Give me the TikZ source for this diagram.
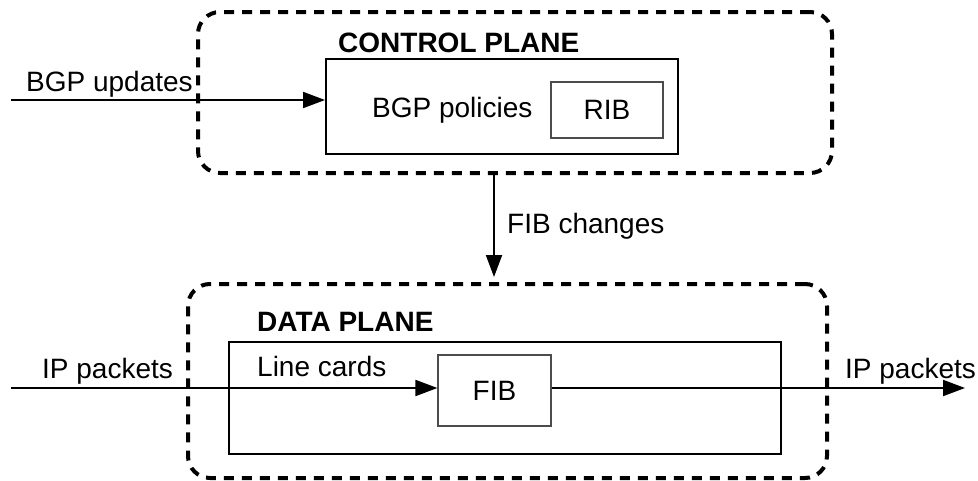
\documentclass[tikz,border=0pt]{standalone}
\usepackage{fontspec}
\setmainfont{Liberation Sans}
\usetikzlibrary{arrows.meta}
\begin{document}
\begin{tikzpicture}[x=1pt,y=-1pt,
  every node/.style={font=\fontsize{28}{34}\selectfont},
  plane/.style={draw, line width=4pt, dash pattern=on 10pt off 8pt, rounded corners=22pt, inner sep=0pt},
  outerbox/.style={draw, line width=2pt, inner sep=0pt},
  innerbox/.style={draw=black!70, line width=1.2pt, inner sep=0pt},
  txt/.style={inner sep=0pt, anchor=base west},
  flow/.style={line width=2pt, -{Triangle[length=22pt,width=16pt]}}
]
\useasboundingbox (0,0) rectangle (978,480);

% control plane
\node[plane, minimum width=634pt, minimum height=161pt] (ctrl) at (515,92.5) {};
\node[outerbox, minimum width=352pt, minimum height=95pt] (ctrlbox) at (502,106.5) {};
\node[innerbox, minimum width=112pt, minimum height=56pt] (rib) at (607,110) {};
\node[inner sep=0pt] (ribtxt) at (rib) {RIB};
\node[txt, font=\fontsize{28}{34}\selectfont\bfseries] (ctrltitle) at (338,52) {CONTROL PLANE};
\node[txt] (policies) at (372,117) {BGP policies};

% data plane
\node[plane, minimum width=639pt, minimum height=194pt] (data) at (507.5,381) {};
\node[outerbox, minimum width=552pt, minimum height=112pt] (databox) at (505,398) {};
\node[innerbox, minimum width=113pt, minimum height=71pt] (fib) at (494.5,390.5) {};
\node[inner sep=0pt] (fibtxt) at (fib) {FIB};
\node[txt, font=\fontsize{28}{34}\selectfont\bfseries] (datatitle) at (257,331) {DATA PLANE};
\node[txt] (linecards) at (257,376) {Line cards};

% connectors
\coordinate (bgpin) at (11,100);
\draw[flow] (bgpin) -- (bgpin -| ctrlbox.west);
\node[txt] (bgplabel) at (26,91) {BGP updates};

\coordinate (fibtip) at (494,277);
\draw[flow] (fibtip |- ctrl.south) -- (fibtip);
\node[txt] (fiblabel) at (507,233) {FIB changes};

\coordinate (ipin) at (11,388);
\coordinate (ipout) at (965,388);
\draw[flow] (ipin) -- (ipin -| fib.west);
\draw[flow] (fib.east |- ipin) -- (ipout);
\node[txt] (inlabel) at (42,378) {IP packets};
\node[txt] (outlabel) at (845,378) {IP packets};
\end{tikzpicture}
\end{document}
